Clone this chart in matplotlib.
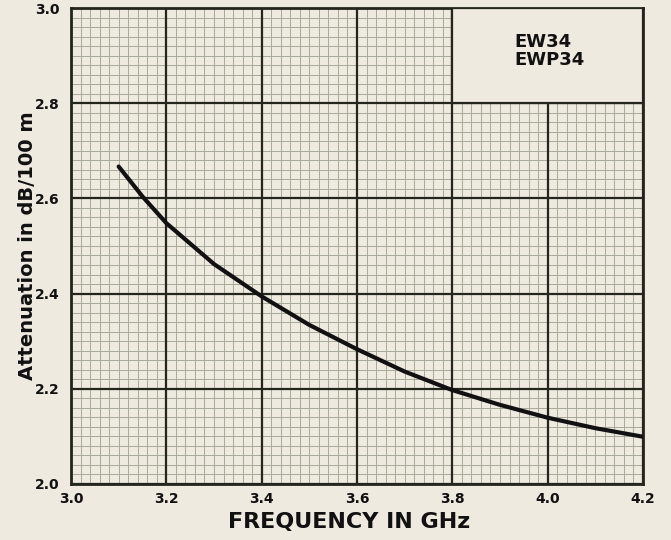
import matplotlib.pyplot as plt
from matplotlib.patches import Rectangle
from matplotlib.ticker import MultipleLocator

# curve
freq = [3.10, 3.15, 3.20, 3.30, 3.40, 3.50, 3.60, 3.70, 3.80, 3.90, 4.00, 4.10, 4.20]
atten = [2.667, 2.604, 2.548, 2.462, 2.394, 2.334, 2.283, 2.236, 2.197, 2.166, 2.139, 2.117, 2.099]

xticks = [3.0, 3.2, 3.4, 3.6, 3.8, 4.0, 4.2]
yticks = [2.0, 2.2, 2.4, 2.6, 2.8, 3.0]
cable_names = ["EW34", "EWP34"]

paper = '#efeadf'
ink = '#23261d'

plt.rcParams['font.family'] = ['DejaVu Sans']

fig = plt.figure(figsize=(6.71, 5.40), dpi=100, facecolor=paper)
ax = fig.add_axes([0.1058, 0.104, 0.8525, 0.881])
ax.set_facecolor(paper)

ax.set_xlim(3.0, 4.2)
ax.set_ylim(2.0, 3.0)
ax.set_xticks(xticks)
ax.set_yticks(yticks)
ax.xaxis.set_minor_locator(MultipleLocator(0.02))
ax.yaxis.set_minor_locator(MultipleLocator(0.02))

# graph paper grid: fine lines, then heavy lines on the major ticks
ax.grid(which='minor', color='#a6a898', linewidth=0.7)
ax.set_axisbelow(True)
for x in xticks:
    ax.axvline(x, color=ink, linewidth=1.6, zorder=1.5)
for y in yticks:
    ax.axhline(y, color=ink, linewidth=1.6, zorder=1.5)

ax.tick_params(axis='x', which='both', length=0, pad=6)
ax.tick_params(axis='y', which='both', length=0, pad=8)
ax.set_xticklabels([f"{v:.1f}" for v in xticks], fontsize=10, fontweight='bold', color='#111')
ax.set_yticklabels([f"{v:.1f}" for v in yticks], fontsize=10, fontweight='bold', color='#111')
for s in ax.spines.values():
    s.set_color(ink)
    s.set_linewidth(2)

ax.plot(freq, atten, color='#111', linewidth=3.0, solid_capstyle='round', zorder=3)

# label box in the top right corner
ax.add_patch(Rectangle((3.8, 2.8), 0.4, 0.2, facecolor=paper, edgecolor=ink,
                       linewidth=1.6, zorder=4))
ax.text(3.93, 2.91, "\n".join(cable_names), fontsize=13, fontweight='bold',
        color='#111', ha='left', va='center', linespacing=1.0, zorder=5)

ax.set_xlabel("FREQUENCY IN GHz", fontsize=16, fontweight='bold', color='#111')
ax.xaxis.set_label_coords(0.486, -0.06)
ax.set_ylabel("Attenuation in dB/100 m", fontsize=14, fontweight='bold', color='#111')
ax.yaxis.set_label_coords(-0.06, 0.5)

fig.savefig("out.png", dpi=100, facecolor=paper)
